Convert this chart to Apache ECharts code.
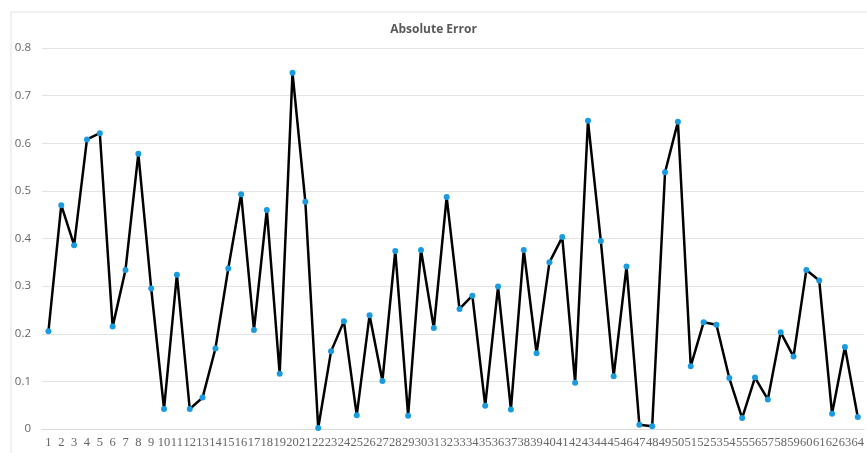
<!DOCTYPE html>
<html lang="en">
<head>
    <meta http-equiv="Content-Type" content="text/html; charset=utf-8"/>
    <title>Absolute Error</title>
    <script type="text/javascript" src="https://cdn.jsdelivr.net/npm/echarts@6/dist/echarts.min.js"></script>
</head>
<style>
    * {
        margin: 0;
        padding: 0;
    }
    html, body {
        width: 100%;
        height: 100%;
        background: #ffffff;
    }
    .main {
        width: 867px;
        height: 453px;
    }
</style>
<body>
<div id="main" class="main"></div>
</body>
<script type="text/javascript">
    // x categories 1..64
    var categories = [];
    for (var i = 1; i <= 64; i++) {
        categories.push(String(i));
    }
    // absolute error values
    var errors = [
        0.205, 0.470, 0.386, 0.608, 0.621, 0.215, 0.334, 0.578, 0.295, 0.042,
        0.324, 0.042, 0.066, 0.169, 0.337, 0.493, 0.208, 0.460, 0.116, 0.748,
        0.477, 0.002, 0.163, 0.226, 0.029, 0.239, 0.101, 0.374, 0.028, 0.376,
        0.212, 0.487, 0.252, 0.280, 0.049, 0.299, 0.041, 0.376, 0.159, 0.350,
        0.403, 0.097, 0.647, 0.395, 0.111, 0.341, 0.009, 0.006, 0.539, 0.645,
        0.132, 0.224, 0.219, 0.107, 0.023, 0.108, 0.062, 0.203, 0.152, 0.334,
        0.312, 0.032, 0.172, 0.025
    ];
    var yTicks = [0, 0.1, 0.2, 0.3, 0.4, 0.5, 0.6, 0.7, 0.8];

    var chart = echarts.init(document.getElementById('main'));
    var option = {
        backgroundColor: '#ffffff',
        animation: false,
        title: {
            text: 'Absolute Error',
            left: 'center',
            top: 19,
            textStyle: {
                color: '#595959',
                fontSize: 12,
                fontWeight: 'bold',
                fontFamily: 'Open Sans'
            }
        },
        graphic: [{
            // chart frame
            type: 'rect',
            shape: {x: 11, y: 12, width: 870, height: 460},
            style: {fill: 'none', stroke: '#e3e3e3', lineWidth: 1},
            silent: true
        }],
        grid: {
            left: 42,
            right: 2,
            top: 48,
            bottom: 24
        },
        xAxis: {
            type: 'category',
            data: categories,
            boundaryGap: true,
            axisLine: {lineStyle: {color: '#d9d9d9'}},
            axisTick: {show: false},
            axisLabel: {
                interval: 0,
                color: '#666666',
                fontSize: 12.5,
                fontFamily: 'Liberation Sans Narrow',
                margin: 7
            }
        },
        yAxis: {
            type: 'value',
            min: yTicks[0],
            max: yTicks[yTicks.length - 1],
            interval: 0.1,
            axisLine: {show: false},
            axisTick: {show: false},
            axisLabel: {
                color: '#666666',
                fontSize: 11.5,
                fontFamily: 'Open Sans',
                margin: 11,
                formatter: function (v) {
                    return v === 0 ? '0' : v.toFixed(1);
                }
            },
            splitLine: {lineStyle: {color: '#e3e3e3', width: 1}}
        },
        series: [{
            name: 'Absolute Error',
            type: 'line',
            data: errors,
            symbol: 'circle',
            symbolSize: 6,
            itemStyle: {color: '#1a9be0'},
            lineStyle: {color: '#000000', width: 2.5},
            z: 3
        }]
    };
    chart.setOption(option);
</script>
</html>
